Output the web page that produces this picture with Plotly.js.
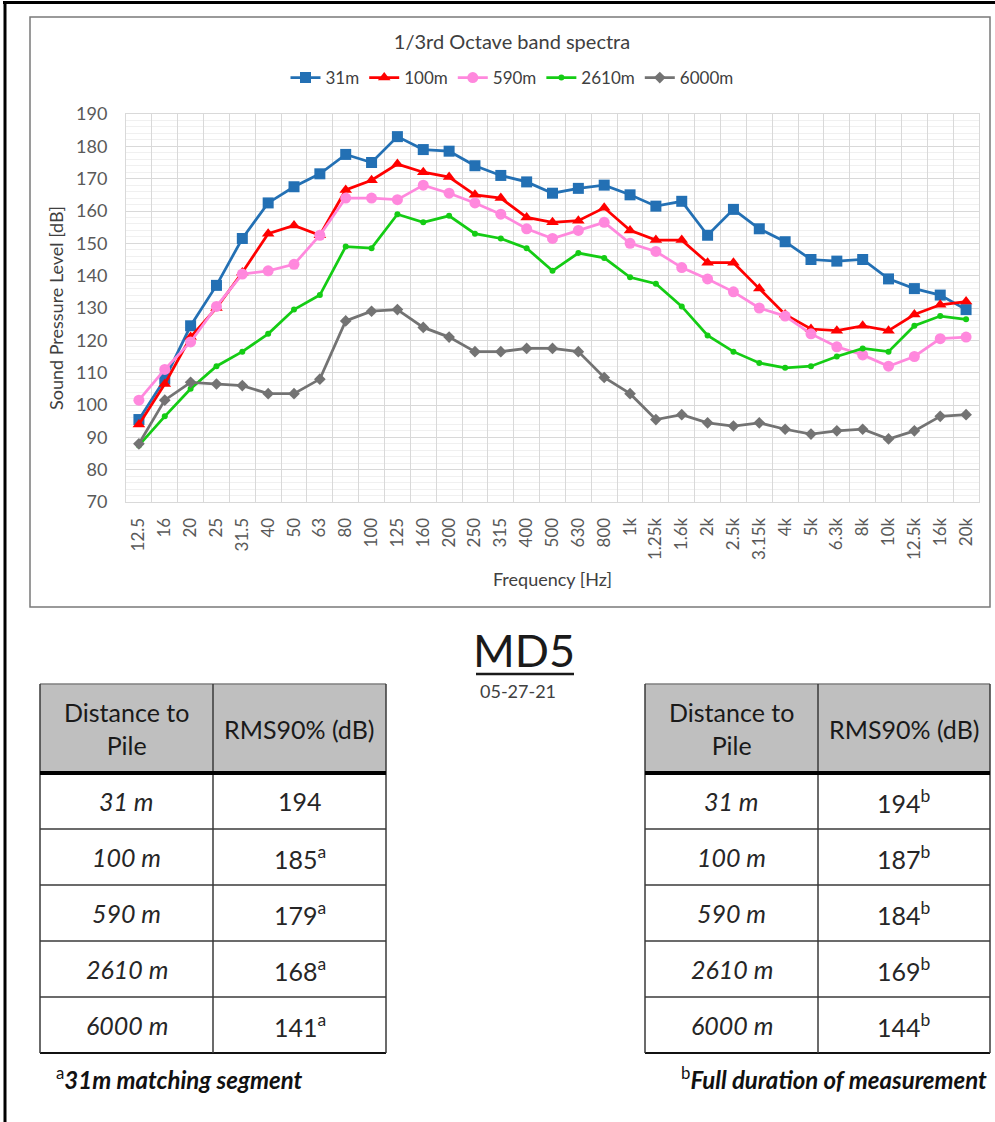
<!DOCTYPE html>
<html>
<head>
<meta charset="utf-8">
<script src="https://cdn.plot.ly/plotly-3.0.1.min.js"></script>
<style>
  html, body { margin: 0; padding: 0; background: #ffffff; }
  #chart { width: 995px; height: 1122px; }
</style>
</head>
<body>
<div id="chart"></div>
<script>
// 1/3-octave band centre frequencies
var bands = ['12.5','16','20','25','31.5','40','50','63','80','100','125','160','200','250','315','400','500','630','800','1k','1.25k','1.6k','2k','2.5k','3.15k','4k','5k','6.3k','8k','10k','12.5k','16k','20k'];

// Sound pressure level per band [dB] at each distance
var spl31m   = [95.5,108,124.5,137,151.5,162.5,167.5,171.5,177.5,175,183,179,178.5,174,171,169,165.5,167,168,165,161.5,163,152.5,160.5,154.5,150.5,145,144.5,145,139,136,134,129.5];
var spl100m  = [94,106.5,121,130,141,153,155.5,152.5,166.5,169.5,174.5,172,170.5,165,164,158,156.5,157,161,154,151,151,144,144,136,128,123.5,123,124.5,123,128,131,132];
var spl590m  = [101.5,111,119.5,130.5,140.5,141.5,143.5,152.5,164,164,163.5,168,165.5,162.5,159,154.5,151.5,154,156.5,150,147.5,142.5,139,135,130,127.5,122,118,115.5,112,115,120.5,121];
var spl2610m = [87.5,96.5,105,112,116.5,122,129.5,134,149,148.5,159,156.5,158.5,153,151.5,148.5,141.5,147,145.5,139.5,137.5,130.5,121.5,116.5,113,111.5,112,115,117.5,116.5,124.5,127.5,126.5];
var spl6000m = [88,101.5,107,106.5,106,103.5,103.5,108,126,129,129.5,124,121,116.5,116.5,117.5,117.5,116.5,108.5,103.5,95.5,97,94.5,93.5,94.5,92.5,91,92,92.5,89.5,92,96.5,97];

var seriesNames = ['31m','100m','590m','2610m','6000m'];

// Summary tables
var distances  = ['31 m','100 m','590 m','2610 m','6000 m'];
var rmsSegment = [194,185,179,168,141];
var segmentNote = ['','a','a','a','a'];
var rmsFull    = [194,187,184,169,144];
var fullNote   = ['b','b','b','b','b'];

var W = 995, H = 1122;
var FONT = 'Lato, "Open Sans", sans-serif';
function fx(p) { return p / W; }
function fy(p) { return 1 - p / H; }

var styles = [
  {color: '#2370B4', symbol: 'square', size: 11},
  {color: '#FF0000', symbol: 'triangle-up', size: 11},
  {color: '#FF88DD', symbol: 'circle', size: 11},
  {color: '#14CC14', symbol: 'circle', size: 6},
  {color: '#737373', symbol: 'diamond', size: 9}
];
var values = [spl31m, spl100m, spl590m, spl2610m, spl6000m];

var traces = values.map(function (v, i) {
  return {
    type: 'scatter',
    mode: 'lines+markers',
    name: seriesNames[i],
    x: bands,
    y: v,
    line: {color: styles[i].color, width: 2.75},
    marker: {color: styles[i].color, symbol: styles[i].symbol, size: styles[i].size},
    cliponaxis: false
  };
});

var shapes = [];
var annotations = [];

// outer page frame (top and left edges)
shapes.push({type: 'line', xref: 'paper', yref: 'paper', x0: fx(3), x1: fx(995), y0: fy(2.5), y1: fy(2.5), line: {color: '#000', width: 3}});
shapes.push({type: 'line', xref: 'paper', yref: 'paper', x0: fx(5), x1: fx(5), y0: fy(1), y1: fy(1122), line: {color: '#000', width: 3}});
// chart area frame
shapes.push({type: 'rect', xref: 'paper', yref: 'paper', layer: 'below', x0: fx(30), x1: fx(990), y0: fy(17), y1: fy(607), line: {color: '#7a7a7a', width: 1.5}});

// heading
annotations.push({xref: 'paper', yref: 'paper', x: fx(524), y: fy(650), xanchor: 'center', yanchor: 'middle', showarrow: false,
  text: 'MD5', font: {family: FONT, size: 45, color: '#1a1a1a'}});
shapes.push({type: 'line', xref: 'paper', yref: 'paper', x0: fx(476), x1: fx(574), y0: fy(674), y1: fy(674), line: {color: '#1a1a1a', width: 2.5}});
annotations.push({xref: 'paper', yref: 'paper', x: fx(518), y: fy(691), xanchor: 'center', yanchor: 'middle', showarrow: false,
  text: '05-27-21', font: {family: FONT, size: 18, color: '#404040'}});

// summary tables
function addTable(left, mid, right, vals, notes) {
  var top = 684, headBottom = 773, rowH = 56;
  var bottom = headBottom + rowH * distances.length;
  shapes.push({type: 'rect', xref: 'paper', yref: 'paper', layer: 'below', x0: fx(left), x1: fx(right), y0: fy(top), y1: fy(headBottom),
    fillcolor: '#BFBFBF', line: {width: 0}});
  shapes.push({type: 'line', xref: 'paper', yref: 'paper', x0: fx(left), x1: fx(right), y0: fy(top), y1: fy(top), line: {color: '#7f7f7f', width: 1.5}});
  for (var r = 1; r < distances.length; r++) {
    var yy = headBottom + rowH * r;
    shapes.push({type: 'line', xref: 'paper', yref: 'paper', x0: fx(left), x1: fx(right), y0: fy(yy), y1: fy(yy), line: {color: '#3a3a3a', width: 1.5}});
  }
  shapes.push({type: 'line', xref: 'paper', yref: 'paper', x0: fx(left), x1: fx(right), y0: fy(bottom), y1: fy(bottom), line: {color: '#111', width: 2}});
  [left, mid, right].forEach(function (xx) {
    shapes.push({type: 'line', xref: 'paper', yref: 'paper', x0: fx(xx), x1: fx(xx), y0: fy(top), y1: fy(bottom), line: {color: '#3a3a3a', width: 1.5}});
  });
  shapes.push({type: 'line', xref: 'paper', yref: 'paper', x0: fx(left), x1: fx(right), y0: fy(headBottom), y1: fy(headBottom), line: {color: '#000', width: 4}});

  var c1 = (left + mid) / 2, c2 = (mid + right) / 2;
  annotations.push({xref: 'paper', yref: 'paper', x: fx(c1), y: fy((top + headBottom) / 2), xanchor: 'center', yanchor: 'middle', showarrow: false,
    text: 'Distance to<br>Pile', font: {family: FONT, size: 25, color: '#1a1a1a'}});
  annotations.push({xref: 'paper', yref: 'paper', x: fx(c2), y: fy((top + headBottom) / 2), xanchor: 'center', yanchor: 'middle', showarrow: false,
    text: 'RMS90% (dB)', font: {family: FONT, size: 25, color: '#1a1a1a'}});
  distances.forEach(function (d, i) {
    var cy = headBottom + rowH * i + rowH / 2;
    annotations.push({xref: 'paper', yref: 'paper', x: fx(c1), y: fy(cy), xanchor: 'center', yanchor: 'middle', showarrow: false,
      text: '<i>' + d + '</i>', font: {family: FONT, size: 25, color: '#262626'}});
    annotations.push({xref: 'paper', yref: 'paper', x: fx(c2), y: fy(cy), xanchor: 'center', yanchor: 'middle', showarrow: false,
      text: vals[i] + (notes[i] ? '<sup>' + notes[i] + '</sup>' : ''), font: {family: FONT, size: 25, color: '#262626'}});
  });
}
addTable(40, 213, 386, rmsSegment, segmentNote);
addTable(645, 818, 990, rmsFull, fullNote);

// footnotes
annotations.push({xref: 'paper', yref: 'paper', x: fx(54), y: fy(1078), xanchor: 'left', yanchor: 'middle', showarrow: false,
  text: '<sup>a</sup><b><i>31m matching segment</i></b>', font: {family: FONT, size: 24, color: '#111'}});
annotations.push({xref: 'paper', yref: 'paper', x: fx(989), y: fy(1078), xanchor: 'right', yanchor: 'middle', showarrow: false,
  text: '<sup>b</sup><b><i>Full duration of measurement</i></b>', font: {family: FONT, size: 24, color: '#111'}});

var layout = {
  width: W, height: H,
  margin: {l: 0, r: 0, t: 0, b: 0, pad: 0},
  paper_bgcolor: '#ffffff',
  plot_bgcolor: '#ffffff',
  font: {family: FONT, color: '#595959'},
  title: {text: '1/3rd Octave band spectra', x: fx(512), xanchor: 'center', y: fy(42), yanchor: 'middle',
    font: {family: FONT, size: 20, color: '#404040'}},
  showlegend: true,
  legend: {orientation: 'h', x: fx(512), xanchor: 'center', y: fy(78), yanchor: 'middle',
    font: {family: FONT, size: 17, color: '#404040'}, bgcolor: 'rgba(0,0,0,0)', itemwidth: 30, tracegroupgap: 0},
  xaxis: {
    domain: [fx(126), fx(979)],
    type: 'category',
    range: [-0.5, bands.length - 0.5],
    tickson: 'boundaries',
    ticks: '',
    showgrid: true, gridcolor: '#d9d9d9', gridwidth: 1,
    showline: true, mirror: true, linecolor: '#d9d9d9', linewidth: 1,
    zeroline: false,
    tickangle: -90,
    tickfont: {family: FONT, size: 17, color: '#595959'},
    ticklabelstandoff: 8,
    title: {text: 'Frequency [Hz]', font: {family: FONT, size: 18, color: '#404040'}, standoff: 14},
    fixedrange: true
  },
  yaxis: {
    domain: [fy(502), fy(114)],
    range: [70, 190],
    tick0: 70, dtick: 10,
    ticks: '',
    showgrid: true, gridcolor: '#d9d9d9', gridwidth: 1,
    minor: {dtick: 2, showgrid: true, gridcolor: '#f0f0f0', gridwidth: 1},
    showline: true, mirror: true, linecolor: '#d9d9d9', linewidth: 1,
    zeroline: false,
    tickfont: {family: FONT, size: 18, color: '#595959'},
    ticklabelstandoff: 14,
    title: {text: 'Sound Pressure Level [dB]', font: {family: FONT, size: 18, color: '#404040'}, standoff: 7},
    fixedrange: true
  },
  shapes: shapes,
  annotations: annotations
};

Plotly.newPlot('chart', traces, layout, {staticPlot: true, displayModeBar: false});
</script>
</body>
</html>
